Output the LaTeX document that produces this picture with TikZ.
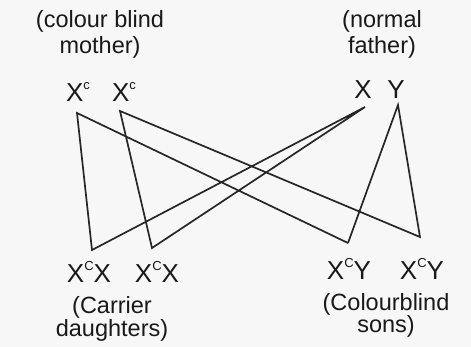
\documentclass[tikz,border=0pt]{standalone}
\usepackage{fontspec}
\setmainfont{Liberation Sans}
\newcommand{\mysup}[1]{\raisebox{0.45em}{\fontsize{13}{13}\selectfont #1}}
\tikzset{
  lbl/.style={inner sep=0pt, font=\fontsize{23.5}{24}\selectfont, text=black!90},
  gene/.style={inner sep=0pt, font=\fontsize{26}{26}\selectfont, text=black!90},
  link/.style={line width=1.7pt, draw=black!85, line join=miter}
}
\begin{document}
\begin{tikzpicture}[x=1pt,y=-1pt]
\fill[white!97!black] (0,0) rectangle (471,347);
\useasboundingbox (0,0) rectangle (471,347);
% labels
\node[lbl] (mt1) at (100,21) {(colour blind};
\node[lbl] (mt2) at (100,47) {mother)};
\node[lbl] (ft1) at (382,21) {(normal};
\node[lbl] (ft2) at (382,47) {father)};
\node[gene] (m1) at (78,92) {X\mysup{c}};
\node[gene] (m2) at (124,92) {X\mysup{c}};
\node[gene] (fx) at (363,90) {X};
\node[gene] (fy) at (396,90) {Y};
\node[gene] (d1) at (89,272) {X\mysup{C}X};
\node[gene] (d2) at (157,272) {X\mysup{C}X};
\node[gene] (s1) at (349,269) {X\mysup{C}Y};
\node[gene] (s2) at (422,269) {X\mysup{C}Y};
\node[lbl] (dl1) at (112,307) {(Carrier};
\node[lbl] (dl2) at (112,330) {daughters)};
\node[lbl] (sl1) at (386,304) {(Colourblind};
\node[lbl] (sl2) at (386,326) {sons)};
% connector points
\coordinate (am1) at (77,113);
\coordinate (am2) at (120,111);
\coordinate (afx) at (365,107);
\coordinate (afy) at (398,105);
\coordinate (bd1) at (92,250);
\coordinate (bd2) at (152,248);
\coordinate (bs1) at (348,243);
\coordinate (bs2) at (420,237);
% connectors
\draw[link] (bs1) -- (am1) -- (bd1) -- (afx) -- (bd2) -- (am2) -- (bs2) -- (afy) -- (bs1);
\end{tikzpicture}
\end{document}
